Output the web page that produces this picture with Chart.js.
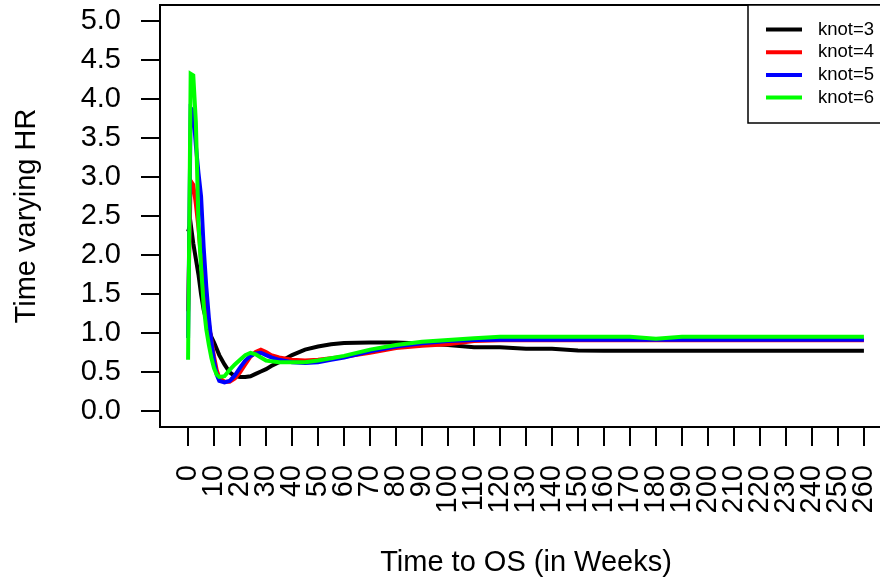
<!DOCTYPE html>
<html lang="en">
<head>
    <meta charset="UTF-8">
    <title>Time varying HR</title>
    <script src="https://cdn.jsdelivr.net/npm/chart.js"></script>
    <style>
        html, body {
            margin: 0;
            padding: 0;
            overflow: hidden;
            background: #ffffff;
        }
        canvas {
            display: block;
        }
    </style>
</head>
<body>
    <canvas id="hrChart" width="900" height="584"></canvas>

    <script>
        // time grid (weeks) shared by all four fits
        const weeks = [0, 1, 2, 3, 4, 5, 6, 7, 8, 9, 10, 11, 12,
            14, 16, 18, 20, 22, 24, 26, 28, 30, 32,
            35, 40, 45, 50, 55, 60,
            70, 80, 90, 100, 110, 120, 130, 140, 150, 160, 170, 180, 190, 200, 210, 220, 230, 240, 250, 260];

        const knot3 = [2.30, 2.40, 2.15, 1.95, 1.75, 1.50, 1.30, 1.17, 1.05, 0.95, 0.88, 0.80, 0.72,
            0.60, 0.50, 0.45, 0.44, 0.44, 0.45, 0.48, 0.51, 0.54, 0.58,
            0.63, 0.72, 0.79, 0.83, 0.86, 0.875,
            0.88, 0.88, 0.87, 0.85, 0.82, 0.82, 0.80, 0.80, 0.78, 0.777, 0.777, 0.777, 0.777, 0.777, 0.777, 0.777, 0.777, 0.777, 0.777, 0.777];

        const knot4 = [1.28, 2.95, 2.90, 2.65, 2.35, 1.95, 1.60, 1.35, 1.12, 0.90, 0.70, 0.53, 0.43,
            0.38, 0.38, 0.42, 0.50, 0.60, 0.70, 0.76, 0.79, 0.76, 0.72,
            0.69, 0.66, 0.65, 0.66, 0.68, 0.70,
            0.75, 0.81, 0.84, 0.86, 0.90, 0.91, 0.91, 0.91, 0.91, 0.91, 0.91, 0.91, 0.91, 0.91, 0.91, 0.91, 0.91, 0.91, 0.91, 0.91];

        const knot5 = [0.94, 3.88, 3.85, 3.40, 3.05, 2.75, 2.10, 1.60, 1.20, 0.88, 0.64, 0.47, 0.39,
            0.37, 0.39, 0.46, 0.56, 0.65, 0.71, 0.74, 0.75, 0.72, 0.69,
            0.66, 0.63, 0.62, 0.63, 0.66, 0.69,
            0.77, 0.83, 0.87, 0.90, 0.912, 0.915, 0.915, 0.915, 0.915, 0.915, 0.915, 0.915, 0.915, 0.915, 0.915, 0.915, 0.915, 0.915, 0.915, 0.915];

        const knot6 = [0.66, 4.32, 4.30, 3.70, 2.40, 1.85, 1.35, 1.05, 0.85, 0.68, 0.55, 0.47, 0.44,
            0.45, 0.53, 0.60, 0.66, 0.72, 0.75, 0.73, 0.69, 0.65, 0.64,
            0.63, 0.63, 0.63, 0.65, 0.68, 0.71,
            0.79, 0.85, 0.89, 0.914, 0.935, 0.956, 0.956, 0.956, 0.956, 0.956, 0.956, 0.93, 0.956, 0.956, 0.956, 0.956, 0.956, 0.956, 0.956, 0.956];

        const seriesNames = ['knot=3', 'knot=4', 'knot=5', 'knot=6'];
        const seriesColors = ['#000000', '#ff0000', '#0000ff', '#00ff00'];

        const xTicks = [0, 10, 20, 30, 40, 50, 60, 70, 80, 90, 100, 110, 120, 130,
            140, 150, 160, 170, 180, 190, 200, 210, 220, 230, 240, 250, 260];
        const yTicks = ['0.0', '0.5', '1.0', '1.5', '2.0', '2.5', '3.0', '3.5', '4.0', '4.5', '5.0'];

        const FONT = '"Liberation Sans", Arial, sans-serif';

        function toPoints(values) {
            return weeks.map((w, i) => ({ x: w, y: values[i] }));
        }

        // fixed margins like an R plot region; drop chart.js label padding
        function fixScale(scale, size) {
            if (scale.isHorizontal()) scale.height = size;
            else scale.width = size;
            scale.paddingTop = 0;
            scale.paddingBottom = 0;
            scale.paddingLeft = 0;
            scale.paddingRight = 0;
        }

        const allSeries = [knot3, knot4, knot5, knot6];
        const datasets = allSeries.map((vals, i) => ({
            label: seriesNames[i],
            data: toPoints(vals),
            borderColor: seriesColors[i],
            borderWidth: 4,
            pointRadius: 0,
            tension: 0,
            fill: false,
            order: allSeries.length - i   // green drawn last, on top
        }));

        // R style closed box round the plot region
        const boxPlugin = {
            id: 'plotBox',
            afterDatasetsDraw(chart) {
                const a = chart.chartArea;
                const ctx = chart.ctx;
                ctx.save();
                ctx.strokeStyle = '#000';
                ctx.lineWidth = 2;
                ctx.strokeRect(a.left, a.top, a.right - a.left, a.bottom - a.top);
                ctx.restore();
            }
        };

        // boxed legend in the top right corner
        const legendPlugin = {
            id: 'boxLegend',
            afterDraw(chart) {
                const a = chart.chartArea;
                const ctx = chart.ctx;
                const w = 144, h = 118;
                const left = a.right - w, top = a.top;
                ctx.save();
                ctx.fillStyle = '#fff';
                ctx.fillRect(left, top, w, h);
                ctx.strokeStyle = '#000';
                ctx.lineWidth = 1.5;
                ctx.strokeRect(left, top, w, h);
                ctx.font = '18.5px ' + FONT;
                ctx.textBaseline = 'middle';
                chart.data.datasets.forEach((ds, i) => {
                    const y = top + 24.5 + i * 22.7;
                    ctx.strokeStyle = ds.borderColor;
                    ctx.lineWidth = 4;
                    ctx.beginPath();
                    ctx.moveTo(left + 18, y);
                    ctx.lineTo(left + 54, y);
                    ctx.stroke();
                    ctx.fillStyle = '#000';
                    ctx.fillText(ds.label, left + 70, y);
                });
                ctx.restore();
            }
        };

        new Chart(document.getElementById('hrChart'), {
            type: 'line',
            data: { datasets: datasets },
            options: {
                responsive: false,
                animation: false,
                devicePixelRatio: 1,
                layout: { padding: { top: 5, right: 8, left: 0, bottom: 0 } },
                plugins: {
                    legend: { display: false },
                    tooltip: { enabled: false }
                },
                scales: {
                    x: {
                        type: 'linear',
                        min: -10.8,
                        max: 270.8,
                        afterBuildTicks: scale => {
                            scale.ticks = xTicks.map(v => ({ value: v }));
                        },
                        afterFit: scale => fixScale(scale, 157),
                        ticks: {
                            autoSkip: false,
                            minRotation: 90,
                            maxRotation: 90,
                            padding: 19,
                            color: '#000',
                            font: { family: FONT, size: 29 },
                            callback: v => String(v)
                        },
                        grid: {
                            drawOnChartArea: false,
                            tickLength: 19,
                            lineWidth: 2,
                            color: '#000'
                        },
                        border: { display: false },
                        title: {
                            display: true,
                            text: 'Time to OS (in Weeks)',
                            color: '#000',
                            font: { family: FONT, size: 29 },
                            padding: { top: 0, bottom: 4 }
                        }
                    },
                    y: {
                        min: -0.2,
                        max: 5.2,
                        afterBuildTicks: scale => {
                            scale.ticks = yTicks.map(t => ({ value: parseFloat(t) }));
                        },
                        afterFit: scale => fixScale(scale, 160),
                        ticks: {
                            padding: 20,
                            color: '#000',
                            font: { family: FONT, size: 29 },
                            callback: v => v.toFixed(1)
                        },
                        grid: {
                            drawOnChartArea: false,
                            tickLength: 19,
                            lineWidth: 2,
                            color: '#000'
                        },
                        border: { display: false },
                        title: {
                            display: true,
                            text: 'Time varying HR',
                            color: '#000',
                            font: { family: FONT, size: 29 },
                            padding: { top: 10, bottom: 0 }
                        }
                    }
                }
            },
            plugins: [boxPlugin, legendPlugin]
        });
    </script>
</body>
</html>
